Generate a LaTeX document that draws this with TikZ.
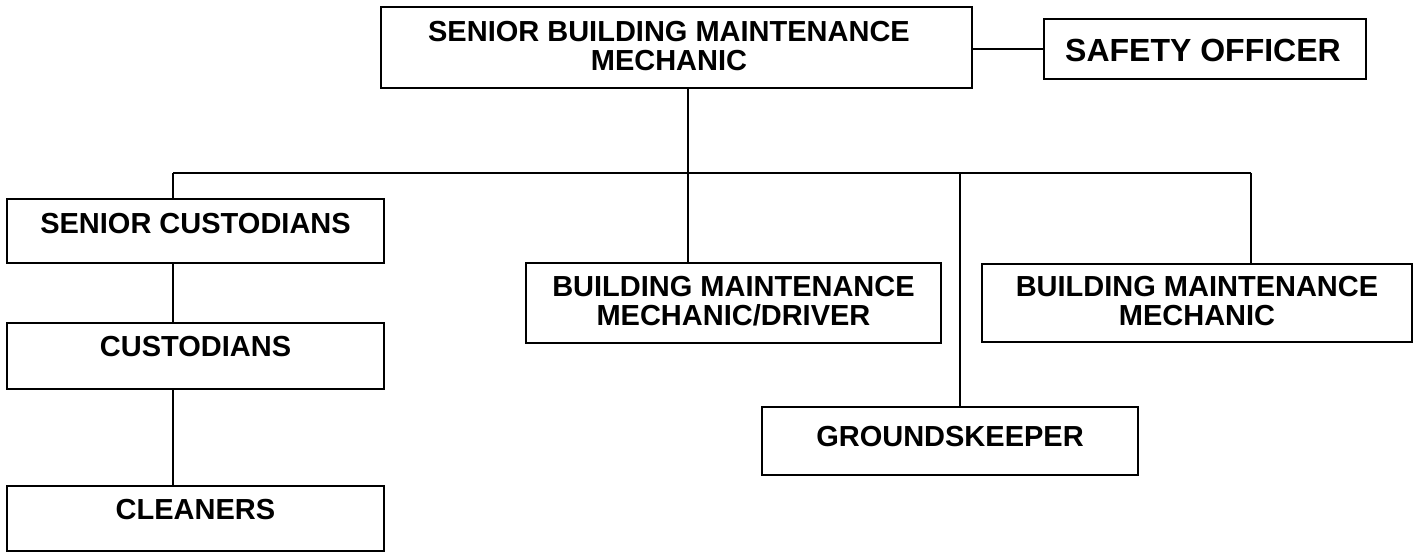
\documentclass[tikz,border=0pt]{standalone}
\usepackage{fontspec}
\setmainfont{Liberation Sans}
\begin{document}
\begin{tikzpicture}[x=1pt,y=-1pt,
  box/.style={draw=black, line width=2.4pt, rectangle, inner sep=0pt, outer sep=0pt, anchor=north west},
  lbl/.style={font=\fontsize{29}{29}\selectfont\bfseries, inner sep=0pt, anchor=base},
  biglbl/.style={font=\fontsize{32}{32}\selectfont\bfseries, inner sep=0pt, anchor=base},
  link/.style={draw=black, line width=1.8pt}]
\useasboundingbox (0,0) rectangle (1419,553);
% boxes
\node[box, minimum width=591pt, minimum height=81pt] (top) at (381,7) {};
\node[box, minimum width=322pt, minimum height=60pt] (safety) at (1044,19) {};
\node[box, minimum width=377pt, minimum height=64pt] (sc) at (7,199) {};
\node[box, minimum width=377pt, minimum height=66pt] (cust) at (7,323) {};
\node[box, minimum width=377pt, minimum height=65pt] (clean) at (7,486) {};
\node[box, minimum width=415pt, minimum height=80pt] (bmd) at (526,263) {};
\node[box, minimum width=430pt, minimum height=78pt] (bmm) at (982,264) {};
\node[box, minimum width=376pt, minimum height=68pt] (gk) at (762,407) {};
% labels
\node[lbl] (topA) at (669,42) {SENIOR BUILDING MAINTENANCE};
\node[lbl] (topB) at (669,71) {MECHANIC};
\node[biglbl] (safetyT) at (1203,62) {SAFETY OFFICER};
\node[lbl] (scT) at (195.5,234) {SENIOR CUSTODIANS};
\node[lbl] (custT) at (195.5,356) {CUSTODIANS};
\node[lbl] (cleanT) at (195.5,519) {CLEANERS};
\node[lbl] (bmdA) at (733.5,297) {BUILDING MAINTENANCE};
\node[lbl] (bmdB) at (733.5,326) {MECHANIC/DRIVER};
\node[lbl] (bmmA) at (1197,297) {BUILDING MAINTENANCE};
\node[lbl] (bmmB) at (1197,326) {MECHANIC};
\node[lbl] (gkT) at (950,446) {GROUNDSKEEPER};
% bus coordinates
\coordinate (busL) at (173,173);
\coordinate (busR) at (1251,173);
\coordinate (busT) at (688,173);
\coordinate (busG) at (960,173);
% connectors
\draw[link] (safety.west) -- (safety.west -| top.east);
\draw[link] (top.south -| busT) -- (busT);
\draw[link] (busL) -- (busR);
\draw[link] (busL) -- (sc.north -| busL);
\draw[link] (sc.south -| busL) -- (cust.north -| busL);
\draw[link] (cust.south -| busL) -- (clean.north -| busL);
\draw[link] (busT) -- (bmd.north -| busT);
\draw[link] (busG) -- (gk.north -| busG);
\draw[link] (busR) -- (bmm.north -| busR);
\end{tikzpicture}
\end{document}
